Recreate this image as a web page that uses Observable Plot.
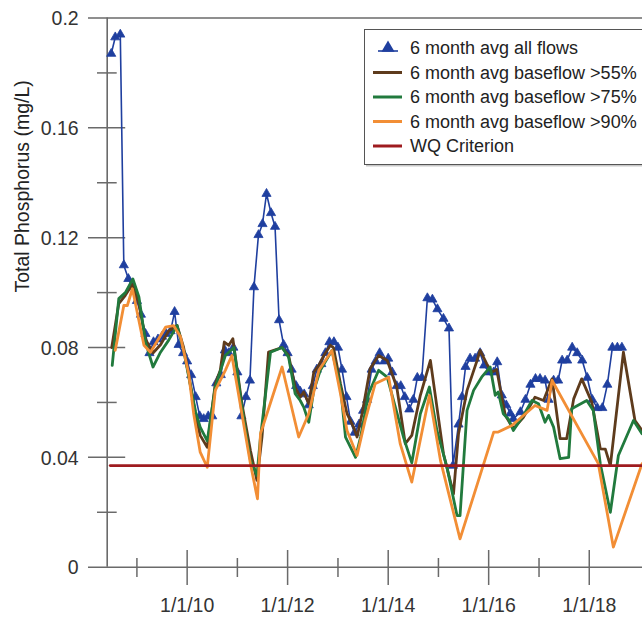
<!DOCTYPE html>
<html><head><meta charset="utf-8">
<script src="https://cdn.jsdelivr.net/npm/d3@7"></script>
<script src="https://cdn.jsdelivr.net/npm/@observablehq/plot@0.6"></script>
<style>
html,body{margin:0;padding:0;background:#fff;}
#chart{position:relative;width:642px;height:617px;overflow:hidden;}
</style></head><body><div id="chart"></div>
<script>
// [decimal year, total phosphorus mg/L]
const allFlows = [
[2008.49,0.187],[2008.57,0.193],[2008.67,0.194],[2008.74,0.110],[2008.83,0.105],[2008.91,0.102],
[2009.00,0.097],[2009.08,0.092],[2009.17,0.085],[2009.25,0.078],[2009.33,0.082],[2009.42,0.083],
[2009.50,0.084],[2009.58,0.085],[2009.67,0.086],[2009.75,0.093],[2009.83,0.081],[2009.92,0.078],
[2010.00,0.075],[2010.08,0.070],[2010.17,0.062],[2010.25,0.055],[2010.33,0.054],[2010.42,0.055],
[2010.50,0.055],[2010.58,0.067],[2010.67,0.070],[2010.75,0.079],[2010.83,0.078],[2010.92,0.080],
[2011.00,0.071],[2011.08,0.055],[2011.17,0.062],[2011.25,0.068],[2011.33,0.102],[2011.42,0.121],
[2011.50,0.125],[2011.58,0.136],[2011.67,0.129],[2011.75,0.124],[2011.83,0.090],[2011.92,0.081],
[2012.00,0.078],[2012.08,0.072],[2012.17,0.066],[2012.25,0.064],[2012.33,0.063],[2012.42,0.059],
[2012.50,0.066],[2012.58,0.072],[2012.67,0.074],[2012.75,0.078],[2012.83,0.082],[2012.92,0.082],
[2013.00,0.080],[2013.08,0.072],[2013.17,0.062],[2013.25,0.053],[2013.33,0.049],[2013.42,0.052],
[2013.50,0.057],[2013.58,0.061],[2013.67,0.072],[2013.75,0.075],[2013.83,0.078],[2013.92,0.075],
[2014.00,0.076],[2014.08,0.071],[2014.17,0.066],[2014.25,0.066],[2014.33,0.062],[2014.42,0.0575],
[2014.50,0.061],[2014.58,0.069],[2014.67,0.069],[2014.78,0.098],[2014.88,0.0975],[2014.98,0.094],
[2015.10,0.0905],[2015.21,0.087],[2015.29,0.037],[2015.40,0.052],[2015.47,0.062],[2015.54,0.073],
[2015.63,0.076],[2015.73,0.076],[2015.83,0.078],[2015.91,0.0735],[2016.01,0.071],[2016.10,0.071],
[2016.17,0.0747],[2016.26,0.0626],[2016.35,0.059],[2016.43,0.056],[2016.49,0.054],[2016.63,0.0565],
[2016.73,0.061],[2016.83,0.0665],[2016.93,0.0686],[2017.02,0.0686],[2017.12,0.068],[2017.19,0.061],
[2017.29,0.068],[2017.38,0.068],[2017.46,0.0753],[2017.56,0.0753],[2017.66,0.080],[2017.76,0.078],
[2017.86,0.0753],[2017.96,0.069],[2018.06,0.061],[2018.16,0.058],[2018.26,0.058],[2018.36,0.0665],
[2018.46,0.080],[2018.56,0.080],[2018.65,0.080]
];
const baseflow55 = [
[2008.50,0.080],[2008.64,0.096],[2008.77,0.099],[2008.91,0.103],[2009.04,0.096],[2009.17,0.083],
[2009.32,0.078],[2009.47,0.081],[2009.63,0.086],[2009.80,0.088],[2009.93,0.080],[2010.07,0.066],
[2010.17,0.055],[2010.26,0.048],[2010.40,0.0437],[2010.56,0.0668],[2010.66,0.0717],[2010.74,0.082],
[2010.83,0.0808],[2010.91,0.0832],[2011.09,0.0595],[2011.26,0.0425],[2011.39,0.0316],[2011.49,0.0474],
[2011.62,0.0783],[2011.89,0.080],[2012.02,0.0771],[2012.15,0.0656],[2012.25,0.0619],[2012.32,0.0638],
[2012.42,0.0595],[2012.52,0.071],[2012.62,0.0735],[2012.72,0.0771],[2012.85,0.0808],[2012.91,0.080],
[2013.05,0.0668],[2013.18,0.0559],[2013.31,0.051],[2013.38,0.0474],[2013.48,0.0559],[2013.64,0.0723],
[2013.81,0.0771],[2013.98,0.0753],[2014.17,0.0656],[2014.34,0.045],[2014.47,0.048],[2014.64,0.0626],
[2014.84,0.0753],[2014.97,0.0583],[2015.10,0.0413],[2015.30,0.0267],[2015.40,0.0486],[2015.57,0.0644],
[2015.77,0.0753],[2015.83,0.079],[2015.96,0.0741],[2016.06,0.071],[2016.16,0.072],[2016.26,0.062],
[2016.33,0.0553],[2016.49,0.0504],[2016.69,0.0546],[2016.92,0.0619],[2017.09,0.0607],[2017.26,0.0686],
[2017.42,0.0468],[2017.55,0.0468],[2017.69,0.0613],[2017.85,0.0686],[2018.05,0.0601],[2018.22,0.0431],
[2018.32,0.043],[2018.42,0.037],[2018.68,0.0783],[2018.91,0.0534],[2019.05,0.0498]
];
const baseflow75 = [
[2008.51,0.0735],[2008.64,0.0978],[2008.77,0.100],[2008.92,0.105],[2009.04,0.0984],[2009.17,0.082],
[2009.32,0.0729],[2009.47,0.0783],[2009.63,0.0826],[2009.80,0.088],[2009.93,0.079],[2010.07,0.0656],
[2010.17,0.0565],[2010.26,0.051],[2010.40,0.046],[2010.56,0.0656],[2010.76,0.0771],[2010.93,0.080],
[2011.09,0.0583],[2011.26,0.0389],[2011.39,0.0334],[2011.46,0.0474],[2011.66,0.0783],[2011.89,0.080],
[2012.02,0.0765],[2012.15,0.0632],[2012.25,0.0607],[2012.32,0.0583],[2012.42,0.0528],[2012.52,0.0644],
[2012.65,0.0717],[2012.88,0.0789],[2013.05,0.0656],[2013.15,0.0474],[2013.35,0.040],[2013.45,0.0474],
[2013.61,0.0632],[2013.81,0.0717],[2013.98,0.0692],[2014.31,0.047],[2014.47,0.038],[2014.64,0.0559],
[2014.82,0.0656],[2014.97,0.0498],[2015.17,0.0364],[2015.37,0.0188],[2015.43,0.0188],[2015.57,0.0571],
[2015.70,0.0644],[2015.86,0.0692],[2016.03,0.0729],[2016.13,0.0626],[2016.19,0.0638],[2016.29,0.0559],
[2016.39,0.054],[2016.49,0.0498],[2016.69,0.0553],[2016.86,0.0607],[2016.99,0.0595],[2017.12,0.0528],
[2017.19,0.0553],[2017.29,0.051],[2017.42,0.0395],[2017.59,0.040],[2017.65,0.0577],[2017.95,0.0607],
[2018.08,0.0571],[2018.22,0.0377],[2018.42,0.020],[2018.58,0.0407],[2018.88,0.0534],[2019.05,0.0486]
];
const baseflow90 = [
[2008.57,0.079],[2008.74,0.0953],[2008.81,0.0953],[2008.91,0.1014],[2009.14,0.0808],[2009.27,0.0783],
[2009.57,0.0874],[2009.73,0.088],[2009.87,0.0838],[2010.03,0.0705],[2010.13,0.0559],[2010.26,0.0419],
[2010.40,0.0364],[2010.56,0.0644],[2010.76,0.0717],[2010.89,0.0771],[2011.09,0.0559],[2011.26,0.0377],
[2011.40,0.0249],[2011.46,0.0486],[2011.89,0.0729],[2012.22,0.0474],[2012.42,0.0559],[2012.62,0.0717],
[2012.88,0.0789],[2013.05,0.0632],[2013.18,0.0498],[2013.38,0.0407],[2013.54,0.0534],[2013.74,0.0668],
[2014.01,0.0692],[2014.24,0.0449],[2014.47,0.031],[2014.82,0.0626],[2015.04,0.0389],[2015.43,0.0103],
[2016.10,0.0492],[2016.19,0.0492],[2016.46,0.0516],[2016.92,0.0589],[2017.16,0.0571],[2017.26,0.068],
[2018.18,0.0377],[2018.48,0.0073],[2019.05,0.0377]
];
const wqCriterion = [[2008.47,0.037],[2019.06,0.037]];

const seriesNames = ["6 month avg all flows","6 month avg baseflow >55%","6 month avg baseflow >75%","6 month avg baseflow >90%","WQ Criterion"];
const seriesColors = ["#1f3f9f","#5e3b1c","#217a3d","#f28e35","#9e1b1f"];

const xDomainYears = [2008.41, 2019.06];
const yDomain = [0, 0.2];
const yTicksMajor = [0, 0.04, 0.08, 0.12, 0.16, 0.2];
const yTickLabels = ["0","0.04","0.08","0.12","0.16","0.2"];
const yTicksMinor = [0.02, 0.06, 0.10, 0.14, 0.18];
const xTicksMajor = [2010, 2012, 2014, 2016, 2018];
const xTickLabels = ["1/1/10","1/1/12","1/1/14","1/1/16","1/1/18"];
const xTicksMinor = [2009, 2011, 2013, 2015, 2017];
const yTitle = "Total Phosphorus (mg/L)";

function toDate(y) {
  const yr = Math.floor(y);
  const a = Date.UTC(yr, 0, 1), b = Date.UTC(yr + 1, 0, 1);
  return new Date(a + (y - yr) * (b - a));
}
const pts = arr => arr.map(([t, v]) => ({date: toDate(t), value: v}));
const x0 = toDate(xDomainYears[0]);
const axisColor = "#6a6a6a";
const font = "'Liberation Sans', Arial, sans-serif";

const plot = Plot.plot({
  width: 642, height: 617,
  marginLeft: 106.7, marginRight: 0, marginTop: 17.5, marginBottom: 50.3,
  x: {type: "utc", domain: xDomainYears.map(toDate), axis: null},
  y: {domain: yDomain, axis: null},
  style: {fontFamily: font, background: "white", overflow: "visible"},
  marks: [
    Plot.ruleY([0, 0.2], {stroke: axisColor, strokeWidth: 1.6, insetLeft: -18.7}),
    Plot.ruleX([x0], {stroke: axisColor, strokeWidth: 1.6}),
    Plot.ruleY(yTicksMajor.slice(1, -1), {x1: x0, x2: x0, insetLeft: -18.7, insetRight: -18.5, stroke: axisColor, strokeWidth: 1.5}),
    Plot.ruleY(yTicksMinor, {x1: x0, x2: x0, insetLeft: -9.7, insetRight: -10, stroke: axisColor, strokeWidth: 1.5}),
    Plot.ruleX(xTicksMajor.map(toDate), {y1: 0, y2: 0, insetTop: -16.7, insetBottom: -18.3, stroke: axisColor, strokeWidth: 1.5}),
    Plot.ruleX(xTicksMinor.map(toDate), {y1: 0, y2: 0, insetTop: -8.7, insetBottom: -10.3, stroke: axisColor, strokeWidth: 1.5}),
    Plot.text(yTicksMajor, {x: x0, y: d => d, text: (d, i) => yTickLabels[i], textAnchor: "end", lineAnchor: "middle", dx: -28.5, dy: 1, fontSize: 19.5, fill: "#333"}),
    Plot.text(xTicksMajor, {x: d => toDate(d), y: 0, text: (d, i) => xTickLabels[i], lineAnchor: "middle", dy: 38.5, fontSize: 19.5, fill: "#333"}),
    Plot.text([yTitle], {frameAnchor: "left", text: d => d, rotate: -90, dx: -84, dy: 0, fontSize: 19.5, fill: "#222", lineAnchor: "middle"}),
    Plot.line(pts(allFlows), {x: "date", y: "value", stroke: seriesColors[0], strokeWidth: 1.6}),
    Plot.dot(pts(allFlows), {x: "date", y: "value", symbol: "triangle", r: 3.4, fill: seriesColors[0], stroke: seriesColors[0], strokeWidth: 0.8}),
    Plot.line(pts(baseflow55), {x: "date", y: "value", stroke: seriesColors[1], strokeWidth: 2.8}),
    Plot.line(pts(baseflow75), {x: "date", y: "value", stroke: seriesColors[2], strokeWidth: 2.8}),
    Plot.line(pts(baseflow90), {x: "date", y: "value", stroke: seriesColors[3], strokeWidth: 2.8}),
    Plot.line(pts(wqCriterion), {x: "date", y: "value", stroke: seriesColors[4], strokeWidth: 2.8})
  ]
});

const svg = d3.select(plot);
const lg = svg.append("g").attr("font-family", font).attr("text-anchor", "start");
lg.append("rect").attr("x", 366).attr("y", 31.5).attr("width", 300).attr("height", 135).attr("fill", "#c8c8c8");
lg.append("rect").attr("x", 364.5).attr("y", 29.5).attr("width", 300).attr("height", 135)
  .attr("fill", "white").attr("stroke", "#555").attr("stroke-width", 1);
const rowY = [48, 72.5, 97, 121.5, 146];
seriesNames.forEach((name, i) => {
  const y = rowY[i];
  if (i === 0) {
    lg.append("line").attr("x1", 378).attr("x2", 398).attr("y1", y + 3).attr("y2", y + 3)
      .attr("stroke", seriesColors[0]).attr("stroke-width", 1.6);
    lg.append("path").attr("d", d3.symbol(d3.symbolTriangle, 75)()).attr("transform", `translate(388,${y})`)
      .attr("fill", seriesColors[0]);
  } else {
    lg.append("line").attr("x1", 373).attr("x2", 402).attr("y1", y).attr("y2", y)
      .attr("stroke", seriesColors[i]).attr("stroke-width", 3);
  }
  lg.append("text").attr("x", 410).attr("y", y).attr("dy", "0.36em").attr("text-anchor", "start")
    .attr("font-size", 18).attr("fill", "#222").text(name);
});

document.getElementById("chart").appendChild(plot);
</script>
</body></html>
